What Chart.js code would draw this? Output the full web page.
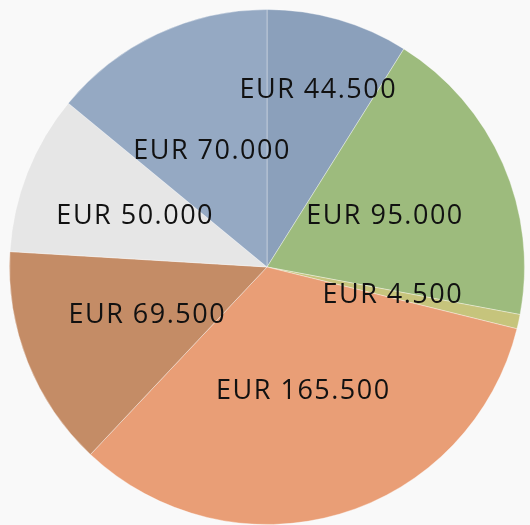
<!DOCTYPE html>
<html>
<head>
<meta charset="utf-8">
<script src="https://cdn.jsdelivr.net/npm/chart.js@4"></script>
<style>
  html, body { margin: 0; padding: 0; background: #f9f9f9; }
  #wrap { width: 530px; height: 525px; }
</style>
</head>
<body>
<div id="wrap"><canvas id="pie"></canvas></div>
<script>
const categories = ["Categoria 1", "Categoria 2", "Categoria 3", "Categoria 4", "Categoria 5", "Categoria 6", "Categoria 7"];
const amounts = [44500, 95000, 4500, 165500, 69500, 50000, 70000];

const sliceColors = ["#8ba0bb", "#9dbb7d", "#c6c47c", "#e99e76", "#c48c66", "#e6e6e6", "#95a9c3"];
// how far out (fraction of radius) each label sits
const labelRadius = [0.72, 0.5, 0.5, 0.5, 0.5, 0.55, 0.5];

function euro(v){
    return "EUR " + v.toString().replace(/\B(?=(\d{3})+(?!\d))/g, ".");
}

const sliceLabels = {
    id: "sliceLabels",
    afterDatasetsDraw(chart){
        const ctx = chart.ctx;
        const meta = chart.getDatasetMeta(0);
        ctx.save();
        ctx.font = "27px 'Open Sans'";
        ctx.letterSpacing = "1.5px";
        ctx.textAlign = "center";
        ctx.textBaseline = "middle";
        ctx.fillStyle = "#111";
        meta.data.forEach((arc, i)=>{
            const p = arc.getProps(["x", "y", "startAngle", "endAngle", "outerRadius"], true);
            const mid = (p.startAngle + p.endAngle) / 2;
            const r = p.outerRadius * labelRadius[i];
            ctx.fillText(euro(amounts[i]), p.x + Math.cos(mid) * r, p.y + Math.sin(mid) * r + 1);
        });
        ctx.restore();
    }
};

new Chart(document.getElementById("pie"), {
    type: "pie",
    data: {
        labels: categories,
        datasets: [{
            data: amounts,
            backgroundColor: sliceColors,
            borderColor: "rgba(255,255,255,0.35)",
            borderWidth: 1
        }]
    },
    options: {
        responsive: true,
        maintainAspectRatio: false,
        animation: false,
        layout: { padding: { top: 9, left: 9, right: 5, bottom: 0 } },
        plugins: {
            legend: { display: false },
            tooltip: { enabled: false }
        }
    },
    plugins: [sliceLabels]
});
</script>
</body>
</html>
